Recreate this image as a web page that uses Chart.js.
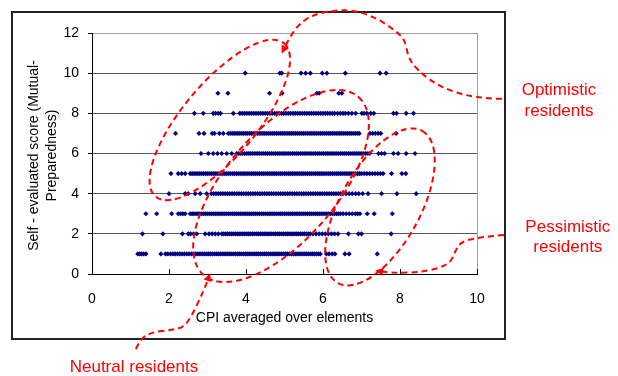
<!DOCTYPE html>
<html>
<head>
<meta charset="utf-8">
<script src="https://cdn.jsdelivr.net/npm/chart.js@4"></script>
<style>
  html, body { margin: 0; padding: 0; background: #fff; }
  #wrap { width: 618px; height: 376px; }
</style>
</head>
<body>
<div id="wrap"><canvas id="chart"></canvas></div>
<script>
// score levels on the y axis
const scores = [1, 2, 3, 4, 5, 6, 7, 8, 9, 10]

// CPI values (x) of the residents at each score
const cpiScore1 = [1.19, 1.24, 1.29, 1.34, 1.40, 1.79, 1.91, 1.97, 2.04, 2.10, 2.16, 2.22, 2.28, 2.34, 2.40, 2.46, 2.52, 2.58,
  2.63, 2.68, 2.73, 2.78, 2.83, 2.88, 2.93, 2.98, 3.03, 3.08, 3.13, 3.18, 3.23, 3.28, 3.33, 3.38, 3.43, 3.48, 3.53, 3.58,
  3.63, 3.68, 3.73, 3.78, 3.83, 3.88, 3.93, 3.98, 4.03, 4.08, 4.13, 4.18, 4.23, 4.28, 4.33, 4.38, 4.43, 4.48, 4.53, 4.58,
  4.63, 4.68, 4.73, 4.78, 4.83, 4.88, 4.93, 4.98, 5.03, 5.08, 5.13, 5.18, 5.23, 5.28, 5.33, 5.38, 5.43, 5.48, 5.53, 5.58,
  5.63, 5.68, 5.73, 5.78, 5.83, 5.88, 5.93, 6.09, 6.16, 6.24, 6.31, 6.57, 6.68, 7.41]
const cpiScore2 = [1.31, 1.84, 2.35, 2.50, 2.56, 2.64, 2.72, 2.94, 3.04, 3.12, 3.20, 3.28,
  3.37, 3.42, 3.47, 3.52, 3.57, 3.62, 3.67, 3.72, 3.77, 3.82, 3.87, 3.92, 3.97, 4.02, 4.07, 4.12, 4.17, 4.22, 4.27, 4.32,
  4.37, 4.42, 4.47, 4.52, 4.57, 4.62, 4.67, 4.72, 4.77, 4.82, 4.87, 4.92, 4.97, 5.02, 5.07, 5.12, 5.17, 5.22, 5.27, 5.32,
  5.37, 5.42, 5.47, 5.52, 5.57, 5.62, 5.67, 5.74, 5.82, 5.90, 5.98, 6.06, 6.14, 6.22, 6.30, 6.39, 6.66, 6.92, 7.00, 7.77]
const cpiScore3 = [1.40, 1.68, 2.07, 2.24, 2.30, 2.36, 2.42,
  2.55, 2.60, 2.65, 2.70, 2.75, 2.80, 2.85, 2.90, 2.95, 3.00, 3.05, 3.10, 3.15, 3.20, 3.25, 3.30, 3.35, 3.40, 3.45, 3.50,
  3.55, 3.60, 3.65, 3.70, 3.75, 3.80, 3.85, 3.90, 3.95, 4.00, 4.05, 4.10, 4.15, 4.20, 4.25, 4.30, 4.35, 4.40, 4.45, 4.50,
  4.55, 4.60, 4.65, 4.70, 4.75, 4.80, 4.85, 4.90, 4.95, 5.00, 5.05, 5.10, 5.15, 5.20, 5.25, 5.30, 5.35, 5.40, 5.45, 5.50,
  5.55, 5.60, 5.65, 5.70, 5.75, 5.80, 5.85, 5.90, 5.95, 6.00, 6.05, 6.10, 6.15, 6.20, 6.25, 6.30, 6.35, 6.40, 6.45,
  6.52, 6.60, 6.68, 6.76, 6.84, 6.90, 6.96, 7.15, 7.33, 7.80]
const cpiScore4 = [2.00, 2.42, 2.50, 2.68, 2.81, 2.98,
  3.10, 3.16, 3.22, 3.28, 3.34, 3.40, 3.46, 3.52, 3.58, 3.64, 3.70, 3.76, 3.82, 3.88, 3.94, 4.00, 4.06, 4.12, 4.18, 4.24,
  4.30, 4.36, 4.42, 4.48, 4.54, 4.60, 4.66, 4.72, 4.78, 4.84, 4.90, 4.96, 5.02, 5.08, 5.14, 5.20, 5.26, 5.32, 5.38, 5.44,
  5.50, 5.56, 5.62, 5.68, 5.74, 5.80, 5.86, 5.92, 5.98, 6.04, 6.10, 6.16, 6.22, 6.28, 6.34, 6.40, 6.46, 6.52,
  6.60, 6.68, 6.76, 6.85, 6.93, 7.03, 7.17, 7.52, 7.92, 8.42]
const cpiScore5 = [2.05, 2.24, 2.33, 2.42,
  2.55, 2.60, 2.65, 2.70, 2.75, 2.80, 2.85, 2.90, 2.95, 3.00, 3.05, 3.10, 3.15, 3.20, 3.25, 3.30, 3.35, 3.40, 3.45, 3.50,
  3.55, 3.60, 3.65, 3.70, 3.75, 3.80, 3.85, 3.90, 3.95, 4.00, 4.05, 4.10, 4.15, 4.20, 4.25, 4.30, 4.35, 4.40, 4.45, 4.50,
  4.55, 4.60, 4.65, 4.70, 4.75, 4.80, 4.85, 4.90, 4.95, 5.00, 5.05, 5.10, 5.15, 5.20, 5.25, 5.30, 5.35, 5.40, 5.45, 5.50,
  5.55, 5.60, 5.65, 5.70, 5.75, 5.80, 5.85, 5.90, 5.95, 6.00, 6.05, 6.10, 6.15, 6.20, 6.25, 6.30, 6.35, 6.40, 6.45, 6.50,
  6.55, 6.60, 6.65, 6.70, 6.75, 6.80, 6.85, 6.90, 6.95, 7.00,
  7.07, 7.14, 7.21, 7.28, 7.35, 7.42, 7.49, 7.56, 7.78, 8.05, 8.15]
const cpiScore6 = [2.83, 3.02, 3.15, 3.26, 3.37, 3.50, 3.63,
  3.76, 3.81, 3.86, 3.91, 3.96, 4.01, 4.06, 4.11, 4.16, 4.21, 4.26, 4.31, 4.36, 4.41, 4.46, 4.51, 4.56, 4.61, 4.66, 4.71,
  4.76, 4.81, 4.86, 4.91, 4.96, 5.01, 5.06, 5.11, 5.16, 5.21, 5.26, 5.31, 5.36, 5.41, 5.46, 5.51, 5.56, 5.61, 5.66, 5.71,
  5.76, 5.81, 5.86, 5.91, 5.96, 6.01, 6.06, 6.11, 6.16, 6.21, 6.26, 6.31, 6.36, 6.41, 6.46, 6.51, 6.56, 6.61, 6.66, 6.71,
  6.76, 6.81, 6.86, 6.91, 6.96, 7.01, 7.06, 7.11, 7.16, 7.21,
  7.44, 7.52, 7.60, 7.83, 7.95, 8.16, 8.39]
const cpiScore7 = [2.17, 2.78, 2.91, 3.12, 3.18, 3.31, 3.41,
  3.54, 3.59, 3.64, 3.69, 3.74, 3.79, 3.84, 3.89, 3.94, 3.99, 4.04, 4.09, 4.14, 4.19, 4.24, 4.29, 4.34, 4.39, 4.44, 4.49,
  4.54, 4.59, 4.64, 4.69, 4.74, 4.79, 4.84, 4.89, 4.94, 4.99, 5.04, 5.09, 5.14, 5.19, 5.24, 5.29, 5.34, 5.39, 5.44, 5.49,
  5.54, 5.59, 5.64, 5.69, 5.74, 5.79, 5.84, 5.89, 5.94, 5.99, 6.04, 6.09, 6.14, 6.19, 6.24, 6.29, 6.34, 6.39, 6.44, 6.49,
  6.54, 6.59, 6.64, 6.69, 6.74, 6.79, 6.84, 6.89, 6.94,
  7.22, 7.29, 7.36, 7.43, 7.50, 7.90]
const cpiScore8 = [2.66, 2.89, 3.15, 3.21, 3.28, 3.34, 3.67,
  3.84, 3.90, 3.96, 4.02, 4.08, 4.14, 4.20, 4.26, 4.32, 4.38, 4.44, 4.50, 4.56, 4.62, 4.68, 4.74, 4.80, 4.86, 4.92, 4.98,
  5.04, 5.10, 5.16, 5.22, 5.28, 5.34, 5.40, 5.46, 5.52, 5.58, 5.64, 5.70, 5.76, 5.82, 5.88, 5.94, 6.00, 6.06, 6.12, 6.18,
  6.24, 6.30, 6.38, 6.45, 6.52, 6.58, 6.66, 6.75, 6.85, 7.01, 7.07, 7.14, 7.24, 7.32, 7.83, 7.91, 8.16, 8.35]
const cpiScore9 = [3.27, 3.53, 4.61, 4.94, 5.84, 5.90, 6.41, 6.49]
const cpiScore10 = [3.98, 4.88, 4.93, 5.43, 5.55, 5.67, 5.98, 6.10, 6.58, 7.48, 7.64]

const cpiByScore = [cpiScore1, cpiScore2, cpiScore3, cpiScore4, cpiScore5,
  cpiScore6, cpiScore7, cpiScore8, cpiScore9, cpiScore10]

const xTicks = [0, 2, 4, 6, 8, 10]
const yTicks = [0, 2, 4, 6, 8, 10, 12]

const xTitle = 'CPI averaged over elements'
const yTitle = ['Self - evaluated score (Mutual-', 'Preparedness)']

const font = '"Liberation Sans", Arial, sans-serif'
const red = '#ff0000'

// hand drawn groups: ellipse centres in data units, radii in px
const groups = [
  { cx: 3.32, cy: 7.67, a: 100, b: 37, angle: -50 },
  { cx: 4.91, cy: 4.38, a: 118, b: 55, angle: -49 },
  { cx: 7.48, cy: 3.34, a: 87, b: 40, angle: -61 }
]

// arrow paths (data units, may lie outside the axes)
const arrows = [
  [[10.65, 8.72], [9.90, 8.76], [9.04, 9.31], [8.44, 10.16], [8.21, 10.81], [8.13, 11.65], [7.92, 12.05],
   [7.40, 12.75], [6.70, 13.20], [5.84, 13.00], [5.40, 12.50], [5.14, 11.80], [4.96, 11.11]],
  [[10.70, 1.94], [10.08, 1.84], [9.56, 1.59], [9.43, 1.10], [9.32, 0.60], [9.04, 0.30], [8.52, 0.10],
   [8.00, 0.05], [7.58, 0.10], [7.43, 0.15]],
  [[1.14, -3.74], [1.25, -3.24], [1.56, -2.89], [2.08, -2.79], [2.39, -2.64], [2.60, -2.04], [2.81, -1.20],
   [2.96, -0.55], [3.04, -0.10]]
]

const labels = [
  { text: 'Optimistic', x: 12.13, y: 9.16 },
  { text: 'residents', x: 12.13, y: 8.12 },
  { text: 'Pessimistic', x: 12.36, y: 2.34 },
  { text: 'residents', x: 12.36, y: 1.34 },
  { text: 'Neutral residents', x: 1.09, y: -4.63 }
]

const points = []
cpiByScore.forEach((xs, i) => {
  xs.forEach(x => points.push({ x: x, y: scores[i] }))
})

const decorations = {
  id: 'decorations',
  afterDraw(chart) {
    const ctx = chart.ctx
    const sx = chart.scales.x
    const sy = chart.scales.y
    const area = chart.chartArea
    const px = v => sx.getPixelForValue(v)
    const py = v => sy.getPixelForValue(v)

    ctx.save()

    // right border of the plot
    ctx.strokeStyle = '#a0a0a0'
    ctx.lineWidth = 1
    ctx.beginPath()
    ctx.moveTo(Math.round(area.right) + 0.5, area.top)
    ctx.lineTo(Math.round(area.right) + 0.5, area.bottom)
    ctx.stroke()

    // x tick marks pointing inward
    ctx.strokeStyle = '#000'
    ctx.beginPath()
    xTicks.forEach(t => {
      const x = Math.round(px(t)) + 0.5
      ctx.moveTo(x, area.bottom)
      ctx.lineTo(x, area.bottom - 5)
    })
    ctx.stroke()

    // outer frame
    ctx.strokeStyle = '#222'
    ctx.lineWidth = 2
    ctx.strokeRect(12, 12, 493, 327)

    // axis titles
    ctx.fillStyle = '#000'
    ctx.font = '14px ' + font
    ctx.textAlign = 'center'
    ctx.textBaseline = 'middle'
    ctx.fillText(xTitle, (area.left + area.right) / 2, area.bottom + 44)
    ctx.save()
    ctx.translate(34, (area.top + area.bottom) / 2 + 2)
    ctx.rotate(-Math.PI / 2)
    ctx.fillText(yTitle[0], 0, 0)
    ctx.fillText(yTitle[1], 0, 18)
    ctx.restore()

    // dashed ellipses
    ctx.strokeStyle = red
    ctx.fillStyle = red
    ctx.lineWidth = 2
    ctx.setLineDash([6, 4])
    groups.forEach(g => {
      ctx.beginPath()
      ctx.ellipse(px(g.cx), py(g.cy), g.a, g.b, g.angle * Math.PI / 180, 0, Math.PI * 2)
      ctx.stroke()
    })

    // dashed arrows
    arrows.forEach(path => {
      const p = path.map(d => [px(d[0]), py(d[1])])
      ctx.setLineDash([6, 4])
      ctx.beginPath()
      ctx.moveTo(p[0][0], p[0][1])
      for (let i = 1; i < p.length - 1; i++) {
        const mx = (p[i][0] + p[i + 1][0]) / 2
        const my = (p[i][1] + p[i + 1][1]) / 2
        ctx.quadraticCurveTo(p[i][0], p[i][1], mx, my)
      }
      const end = p[p.length - 1]
      const prev = p[p.length - 2]
      ctx.lineTo(end[0], end[1])
      ctx.stroke()
      const ang = Math.atan2(end[1] - prev[1], end[0] - prev[0])
      ctx.setLineDash([])
      ctx.beginPath()
      ctx.moveTo(end[0] + Math.cos(ang) * 3, end[1] + Math.sin(ang) * 3)
      ctx.lineTo(end[0] - Math.cos(ang) * 5 + Math.sin(ang) * 4, end[1] - Math.sin(ang) * 5 - Math.cos(ang) * 4)
      ctx.lineTo(end[0] - Math.cos(ang) * 5 - Math.sin(ang) * 4, end[1] - Math.sin(ang) * 5 + Math.cos(ang) * 4)
      ctx.closePath()
      ctx.fill()
    })

    // group labels
    ctx.font = '17px ' + font
    ctx.textAlign = 'center'
    ctx.textBaseline = 'middle'
    labels.forEach(l => ctx.fillText(l.text, px(l.x), py(l.y)))

    ctx.restore()
  }
}

new Chart(document.getElementById('chart'), {
  type: 'scatter',
  data: {
    datasets: [{
      label: 'Residents',
      data: points,
      pointStyle: 'rectRot',
      pointRadius: 2.6,
      pointBorderWidth: 0,
      backgroundColor: '#000080',
      borderColor: '#000080'
    }]
  },
  options: {
    responsive: true,
    maintainAspectRatio: false,
    animation: false,
    events: [],
    layout: { padding: { left: 0, top: 33, right: 141, bottom: 62 } },
    plugins: {
      legend: { display: false },
      tooltip: { enabled: false }
    },
    scales: {
      x: {
        type: 'linear',
        min: 0,
        max: 10,
        afterBuildTicks: s => { s.ticks = xTicks.map(v => ({ value: v })) },
        afterFit: s => { s.height = 40 },
        grid: { display: false },
        border: { display: true, color: '#000', width: 1 },
        ticks: { color: '#000', padding: 9, font: { family: font, size: 14 } }
      },
      y: {
        type: 'linear',
        min: 0,
        max: 12,
        afterBuildTicks: s => { s.ticks = yTicks.map(v => ({ value: v })) },
        afterFit: s => { s.width = 92 },
        grid: {
          color: ctx => ctx.tick && ctx.tick.value === 12 ? '#a0a0a0' : '#555',
          tickColor: '#000',
          tickLength: 4,
          drawTicks: true
        },
        border: { display: true, color: '#000', width: 1 },
        ticks: { color: '#000', padding: 9, font: { family: font, size: 14 } }
      }
    }
  },
  plugins: [decorations]
})
</script>
</body>
</html>
